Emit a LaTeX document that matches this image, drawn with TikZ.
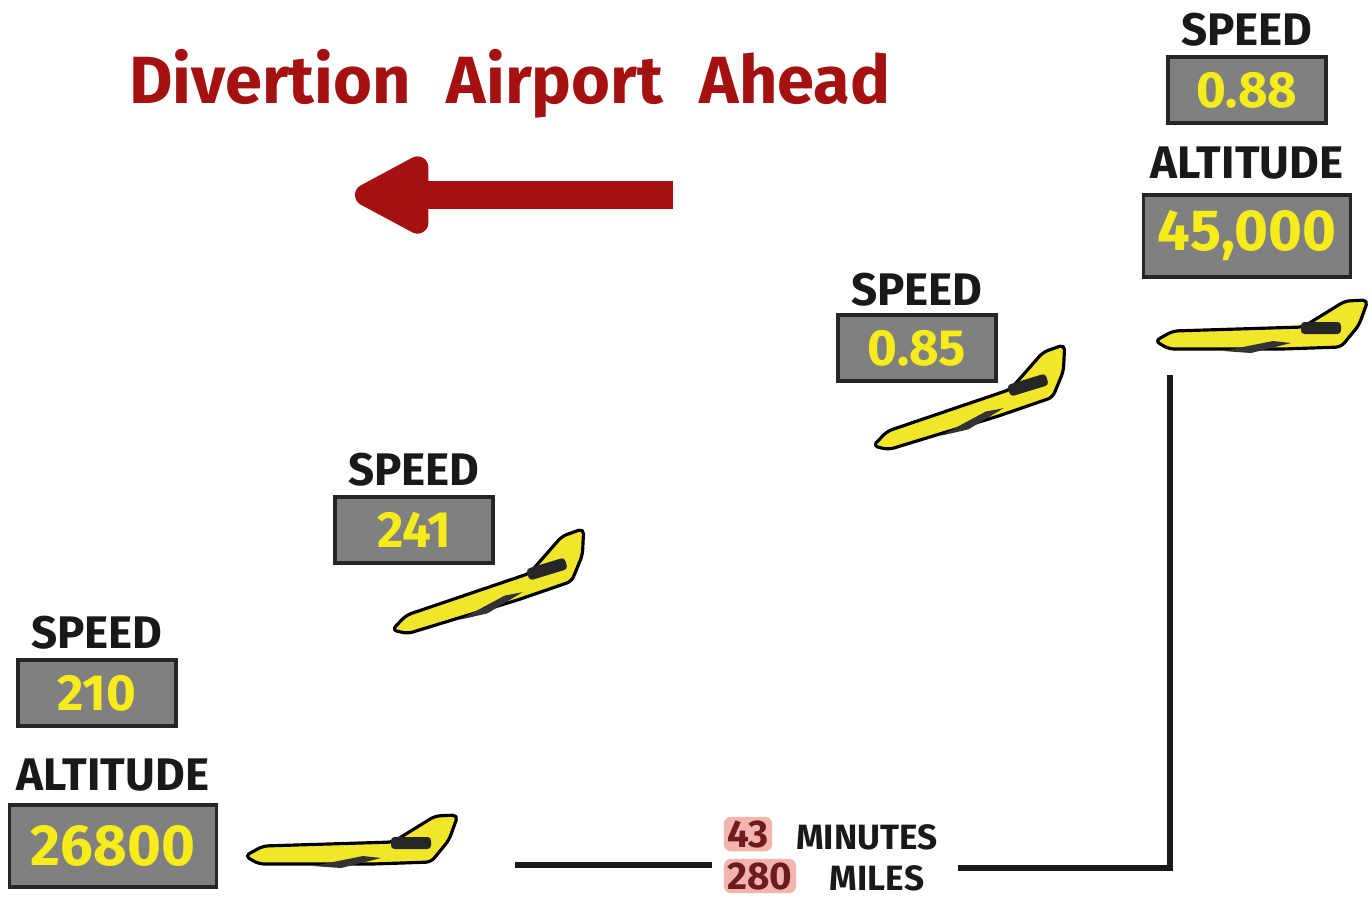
\documentclass[tikz,border=0pt]{standalone}
\usepackage{fontspec}
\setmainfont{Fira Sans}
\usepackage{xcolor}
\usetikzlibrary{positioning,arrows.meta}

\definecolor{signred}{HTML}{A51111}
\definecolor{panelgray}{HTML}{808080}
\definecolor{readout}{HTML}{F7EC1B}
\definecolor{jetyellow}{HTML}{F2E62A}
\definecolor{marker}{HTML}{F4B4AE}
\definecolor{maroon}{HTML}{6E1B1B}

% little jet, nose at the origin, flying level
\tikzset{
  jet/.pic={
    \draw[line width=1.8pt, fill=jetyellow, rounded corners=3pt, line join=round]
      (0,0) -- (18,-10) -- (148,-14) -- (190,-40) -- (213,-41) -- (204,-16)
      -- (186,6) -- (128,8) -- (14,8) -- cycle;
    \fill[black!85, rounded corners=2pt] (146,-19) rectangle (186,-7);
    \fill[black!80] (68,10) -- (118,0) -- (136,2) -- (96,12) -- cycle;
  }
}

\begin{document}
\begin{tikzpicture}[x=0.02cm, y=-0.02cm, on grid,
    tag/.style={font=\fontsize{26}{26}\selectfont\bfseries, text=black!90},
    panel/.style={draw=black!85, line width=1.8pt, fill=panelgray,
      minimum width=3.16cm, minimum height=1.32cm, text=readout,
      font=\fontsize{29}{29}\selectfont\bfseries},
    bigpanel/.style={panel, minimum width=4.14cm, minimum height=1.64cm,
      font=\fontsize{33}{33}\selectfont\bfseries},
    title/.style={text=signred, anchor=base, font=\fontsize{38}{38}\selectfont\bfseries},
    hl/.style={fill=marker, rounded corners=4pt, text=maroon, inner sep=2pt,
      font=\fontsize{22}{22}\selectfont\bfseries},
    note/.style={font=\fontsize{20}{20}\selectfont\bfseries, text=black!90},
    track/.style={line width=3.5pt, black!90}]
    \useasboundingbox[fill=white] (0,0) rectangle (1372,900);

    % heading and the arrow
    \node[title] (w1) at (270,103) {Divertion};
    \node[title] (w2) at (555,103) {Airport};
    \node[title] (w3) at (795,103) {Ahead};
    \coordinate (tail) at (673,195);
    \coordinate (tip) at (355,195);
    \draw[signred, line width=16pt, -{Triangle[length=1.75cm, width=1.7cm, round]}] (tail) -- (tip);

    % readouts
    \node[panel] (v1) at (97,693) {210};
    \node[tag] (sp1) [above=1.2cm of v1] {SPEED};
    \node[bigpanel] (a1) at (113,846) {26800};
    \node[tag] (al1) [above=1.42cm of a1] {ALTITUDE};

    \node[panel] (v2) at (414,530) {241};
    \node[tag] (sp2) [above=1.2cm of v2] {SPEED};

    \node[panel] (v3) at (917,348) {0.85};
    \node[tag] (sp3) [above=1.16cm of v3] {SPEED};

    \node[panel] (v4) at (1247,90) {0.88};
    \node[tag] (sp4) [above=1.2cm of v4] {SPEED};
    \node[tag] (al4) [below=1.46cm of v4] {ALTITUDE};
    \node[bigpanel] (a4) [below=1.46cm of al4] {45,000};

    % the jets
    \pic (p1) at (245,856) {jet};
    \pic[rotate=17] (p2) at (392,630) {jet};
    \pic[rotate=17] (p3) at (873,446) {jet};
    \pic (p4) at (1155,341) {jet};

    % distance flown
    \node[hl] (n43) at (748,834) {43};
    \node[note] (min) at (867,837) {MINUTES};
    \node[hl] (n280) at (760,876) {280};
    \node[note] (mi) at (877,878) {MILES};

    \coordinate (l0) at (515,865);
    \coordinate (l1) at (712,865);
    \coordinate (r0) at (958,868);
    \coordinate (bend) at (1170,868);
    \coordinate (up) at (1170,375);
    \draw[track] (l0) -- (l1);
    \draw[track] (r0) -- (bend) -- (up);
\end{tikzpicture}
\end{document}
